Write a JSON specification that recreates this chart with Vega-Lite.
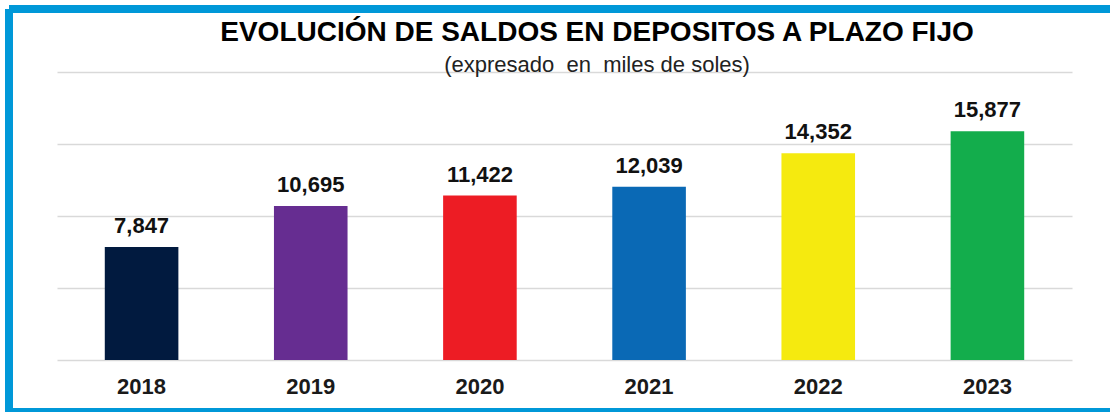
{
  "$schema": "https://vega.github.io/schema/vega-lite/v6.json",
  "width": 1101,
  "height": 403,
  "autosize": {"type": "none"},
  "padding": {"left": 9, "top": 9, "right": 0, "bottom": 0},
  "background": "white",
  "title": {
    "text": "EVOLUCIÓN DE SALDOS EN DEPOSITOS A PLAZO FIJO",
    "subtitle": "(expresado\u00a0 en\u00a0 miles de soles)",
    "anchor": "middle",
    "frame": "group",
    "orient": "top",
    "offset": -67,
    "dx": 37.5,
    "font": "Liberation Sans",
    "fontSize": 28,
    "fontWeight": "bold",
    "color": "#000000",
    "subtitleFont": "Liberation Sans",
    "subtitleFontSize": 22,
    "subtitleColor": "#222222",
    "subtitlePadding": 8
  },
  "config": {"view": {"stroke": "#0098d8", "strokeWidth": 8, "strokeDash": [1101, 403, 1504, 0]}},
  "data": {
    "values": [
      {"year": "2018", "value": 7847},
      {"year": "2019", "value": 10695},
      {"year": "2020", "value": 11422},
      {"year": "2021", "value": 12039},
      {"year": "2022", "value": 14352},
      {"year": "2023", "value": 15877}
    ]
  },
  "encoding": {
    "x": {
      "field": "year",
      "type": "nominal",
      "sort": null,
      "scale": {"range": [48, 1063], "paddingInner": 0.565, "paddingOuter": 0.2825},
      "axis": {
        "title": null,
        "domain": false,
        "ticks": false,
        "labelAngle": 0,
        "labelFont": "Liberation Sans",
        "labelFontSize": 22,
        "labelFontWeight": "bold",
        "labelColor": "#1a1a1a",
        "offset": -36,
        "labelPadding": 0
      }
    },
    "y": {
      "field": "value",
      "type": "quantitative",
      "scale": {"domain": [0, 20000], "range": [351, 63], "nice": false, "zero": true},
      "axis": {
        "values": [0, 5000, 10000, 15000, 20000],
        "labels": false,
        "ticks": false,
        "domain": false,
        "title": null,
        "grid": true,
        "gridColor": "#d9d9d9",
        "gridWidth": 1.5
      }
    }
  },
  "layer": [
    {
      "mark": {"type": "bar"},
      "encoding": {
        "color": {
          "field": "year",
          "type": "nominal",
          "sort": null,
          "scale": {"range": ["#011a3f", "#662d91", "#ed1c24", "#0a69b5", "#f5ea0f", "#13ad4c"]},
          "legend": null
        }
      }
    },
    {
      "mark": {
        "type": "text",
        "font": "Liberation Sans",
        "fontSize": 22,
        "fontWeight": "bold",
        "color": "#111111",
        "baseline": "alphabetic",
        "dy": -14
      },
      "encoding": {
        "text": {"field": "value", "type": "quantitative", "format": ","}
      }
    }
  ]
}
